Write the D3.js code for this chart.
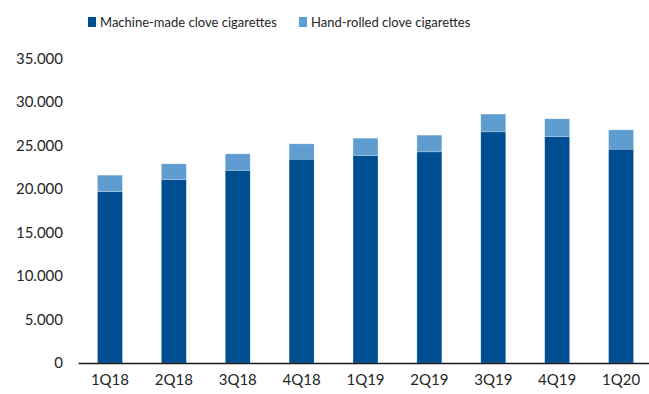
<!DOCTYPE html>
<html>
<head>
<meta charset="utf-8">
<script src="https://cdn.jsdelivr.net/npm/d3@7"></script>
<style>
body { margin: 0; background: #fff; }
svg { display: block; font-family: Lato, "Open Sans", sans-serif; }
</style>
</head>
<body>
<svg id="chart" width="649" height="394"></svg>
<script>
// quarters
var quarters = ["1Q18","2Q18","3Q18","4Q18","1Q19","2Q19","3Q19","4Q19","1Q20"];
// series values
var machineMade = [19700, 21080, 22150, 23430, 23840, 24270, 26570, 26030, 24580];
var handRolled = [1890, 1810, 1890, 1760, 2000, 1920, 2040, 2040, 2220];
var seriesNames = ["Machine-made clove cigarettes", "Hand-rolled clove cigarettes"];
var seriesColors = ["#004e92", "#5f9dd1"];
var yTicks = [0, 5000, 10000, 15000, 20000, 25000, 30000, 35000];

var svg = d3.select("#chart");

var table = quarters.map(function(q, i) {
  return { quarter: q, machine: machineMade[i], hand: handRolled[i] };
});

var x = d3.scaleBand()
  .domain(quarters)
  .range([78, 653])
  .paddingInner(0.61)
  .paddingOuter(0.305);

var y = d3.scaleLinear()
  .domain([0, 35000])
  .range([363, 58.5]);

var fmt = function(d) { return d === 0 ? "0" : d3.format(",")(d).replace(/,/g, "."); };

// y labels
svg.append("g")
  .selectAll("text")
  .data(yTicks)
  .enter().append("text")
  .attr("x", 63)
  .attr("y", function(d) { return y(d); })
  .attr("dy", "0.35em")
  .attr("text-anchor", "end")
  .attr("font-size", "15px")
  .attr("fill", "#262626")
  .text(fmt);

var stack = d3.stack().keys(["machine", "hand"])(table);

svg.append("g")
  .selectAll("g")
  .data(stack)
  .enter().append("g")
  .attr("fill", function(d, i) { return seriesColors[i]; })
  .selectAll("rect")
  .data(function(d) { return d; })
  .enter().append("rect")
  .attr("x", function(d) { return x(d.data.quarter); })
  .attr("width", x.bandwidth())
  .attr("y", function(d) { return y(d[1]); })
  .attr("height", function(d) { return y(d[0]) - y(d[1]); })
  .attr("stroke", "#ffffff")
  .attr("stroke-opacity", 0.35)
  .attr("stroke-width", 0.6);

// x axis
var xAxis = svg.append("g")
  .attr("transform", "translate(0," + y(0) + ")")
  .call(d3.axisBottom(x).tickSize(0).tickPadding(11));
xAxis.select(".domain").attr("stroke", "#1a1a1a").attr("stroke-width", 1.3);
xAxis.selectAll("text")
  .attr("font-size", "15px")
  .attr("font-family", "Lato, 'Open Sans', sans-serif")
  .attr("fill", "#262626");

// legend
var legendX = [88, 299];
var legend = svg.append("g")
  .selectAll("g")
  .data(seriesNames)
  .enter().append("g")
  .attr("transform", function(d, i) { return "translate(" + legendX[i] + ",17)"; });
legend.append("rect")
  .attr("width", 8)
  .attr("height", 10)
  .attr("fill", function(d, i) { return seriesColors[i]; });
legend.append("text")
  .attr("x", 12)
  .attr("y", 5)
  .attr("dy", "0.35em")
  .attr("font-size", "13px")
  .attr("fill", "#262626")
  .text(function(d) { return d; });
</script>
</body>
</html>
